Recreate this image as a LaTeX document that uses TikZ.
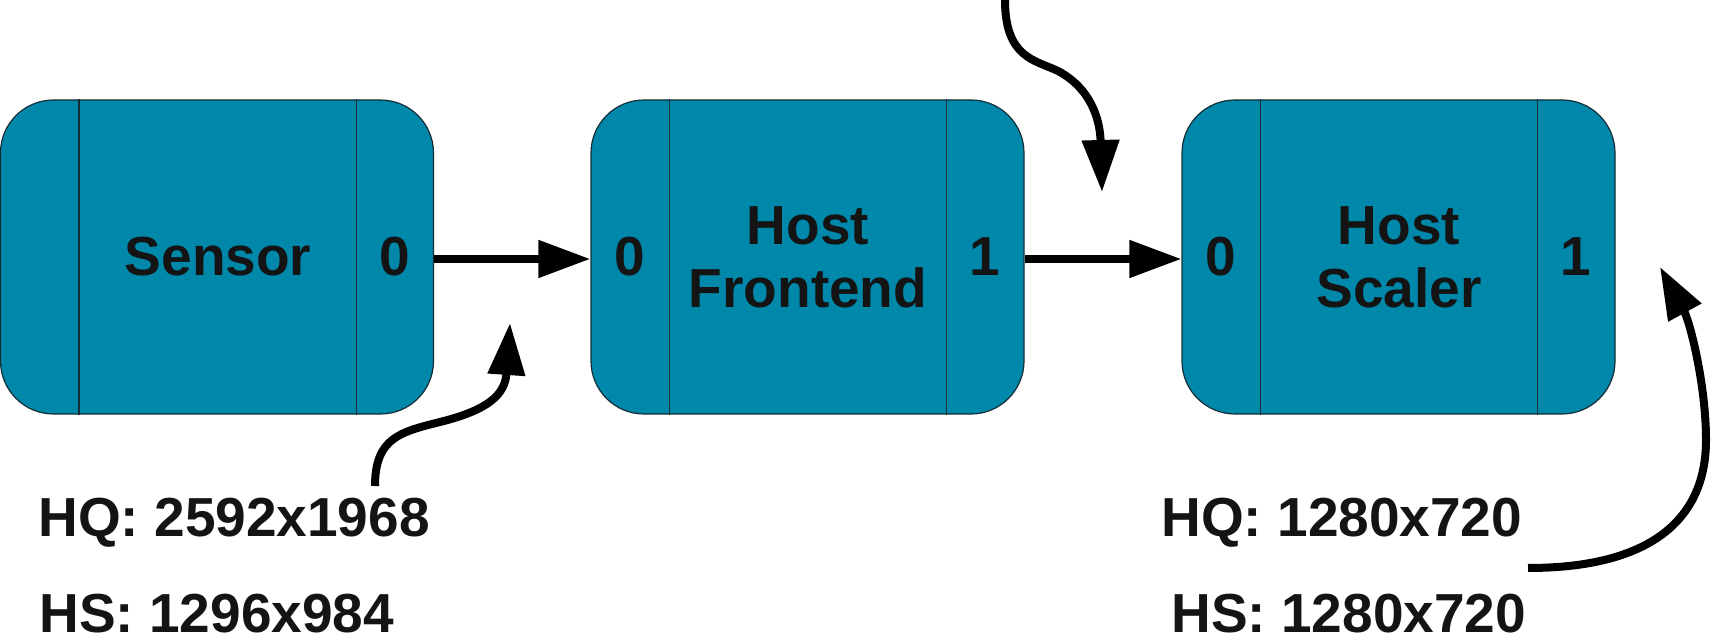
\documentclass[tikz,border=0pt]{standalone}
\usepackage{fontspec}
\setmainfont{Liberation Sans}
\usetikzlibrary{arrows.meta}
\definecolor{boxteal}{RGB}{0,136,171}
\definecolor{boxedge}{RGB}{20,45,55}
\tikzset{
  box/.style={draw=boxedge, fill=boxteal, line width=0.6pt, minimum width=216.5pt,
    minimum height=157pt, rounded corners=26.5pt, inner sep=0pt},
  divider/.style={draw=boxedge, line width=0.6pt},
  lbl/.style={font=\fontsize{27.5}{31.5}\selectfont\bfseries, text=black!92, inner sep=0pt, anchor=base, align=center},
  info/.style={font=\fontsize{27.5}{31.5}\selectfont\bfseries, text=black!92, inner sep=0pt, text depth=0pt, anchor=base west},
  arr/.style={line width=4pt, -{Triangle[length=26pt,width=18pt]}}
}
\begin{document}
\begin{tikzpicture}[x=0.5pt,y=-0.5pt]
\useasboundingbox (0,0) rectangle (1714,640);
% boxes
\node[box] (b1) at (217,257) {};
\node[box] (b2) at (807.5,257) {};
\node[box] (b3) at (1398.5,257) {};
\foreach \b in {b1,b2,b3}{
  \draw[divider] ([xshift=39.5pt]\b.north west) -- ([xshift=39.5pt]\b.south west);
  \draw[divider] ([xshift=-39pt]\b.north east) -- ([xshift=-39pt]\b.south east);
}
% labels
\node[lbl] (t1) at (218,276) {Sensor};
\node[lbl] (p10) at (395,276) {0};
\node[lbl] (p20) at (630,276) {0};
\node[lbl] (t2) at (808,308) {Host\\Frontend};
\node[lbl] (p21) at (985,276) {1};
\node[lbl] (p30) at (1221,276) {0};
\node[lbl] (t3) at (1399,308) {Host\\Scaler};
\node[lbl] (p31) at (1576,276) {1};
% straight connectors
\draw[arr] (b1.east |- 0,259) -- (b2.west |- 0,259);
\draw[arr] (b2.east |- 0,259) -- (b3.west |- 0,259);
% curved arrows
\coordinate (s1) at (375,486);
\coordinate (e1) at (510,323);
\draw[arr] (s1) .. controls (375,438) and (400,432) .. (440,422) .. controls (488,410) and (505,395) .. (e1);
\coordinate (s2) at (1005,0);
\coordinate (e2) at (1102,192);
\draw[arr] (s2) .. controls (1005,58) and (1035,60) .. (1058,71) .. controls (1090,88) and (1100,118) .. (e2);
\coordinate (s3) at (1528,568);
\coordinate (e3) at (1660,267);
\draw[arr] (s3) .. controls (1650,568) and (1706,520) .. (1706,440) .. controls (1706,385) and (1690,322) .. (e3);
% info texts
\node[info] (hq1) at (38,537) {HQ: 2592x1968};
\node[info] (hs1) at (39,633) {HS: 1296x984};
\node[info] (hq2) at (1161,537) {HQ: 1280x720};
\node[info] (hs2) at (1171,633) {HS: 1280x720};
\end{tikzpicture}
\end{document}
